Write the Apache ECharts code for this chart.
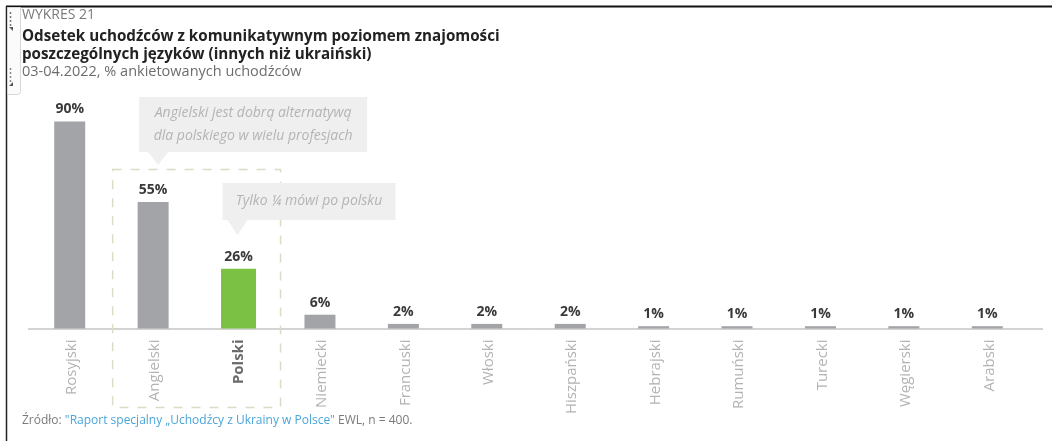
<!DOCTYPE html>
<html>
<head>
<meta charset="utf-8">
<script src="https://cdn.jsdelivr.net/npm/echarts@6/dist/echarts.min.js"></script>
<style>
  html, body { margin: 0; padding: 0; background: #fff; }
  #chart { width: 1052px; height: 441px; }
</style>
</head>
<body>
<div id="chart"></div>
<script>
// Languages spoken at a communicative level by refugees (other than Ukrainian)
const categories = ['Rosyjski', 'Angielski', 'Polski', 'Niemiecki', 'Francuski', 'Włoski',
  'Hiszpański', 'Hebrajski', 'Rumuński', 'Turecki', 'Węgierski', 'Arabski'];
const shares = [90, 55, 26, 6, 2, 2, 2, 1, 1, 1, 1, 1];
const highlighted = 'Polski';

const titleLines = ['Odsetek uchodźców z komunikatywnym poziomem znajomości',
  'poszczególnych języków (innych niż ukraiński)'];
const calloutEnglish = ['Angielski jest dobrą alternatywą', 'dla polskiego w wielu profesjach'];
const calloutPolish = ['Tylko ¼ mówi po polsku'];

const FONT = '"Open Sans", "Noto Sans", sans-serif';
const GRAY = '#a2a4a7';
const GREEN = '#7bc143';

const chart = echarts.init(document.getElementById('chart'), null, { renderer: 'canvas' });

const greySeries = shares.map((v, i) => categories[i] === highlighted ? '-' : v);
const greenSeries = shares.map((v, i) => categories[i] === highlighted ? v : '-');

const labelCfg = {
  show: true,
  position: 'top',
  distance: 5,
  formatter: p => p.value + '%',
  fontFamily: FONT,
  fontWeight: 'bold',
  fontSize: 14,
  color: '#3a3a3a'
};

chart.setOption({
  animation: false,
  backgroundColor: '#fff',
  grid: { left: 30, right: 21, top: 98.5, bottom: 112.5, containLabel: false },
  xAxis: {
    type: 'category',
    data: categories,
    axisLine: { show: false },
    axisTick: { show: false },
    axisLabel: {
      rotate: 90,
      margin: 11,
      fontFamily: FONT,
      fontSize: 15,
      color: '#b3b3b3',
      formatter: v => v === highlighted ? '{hl|' + v + '}' : v,
      rich: { hl: { fontFamily: FONT, fontSize: 15, fontWeight: 'bold', color: '#6a6a6a' } }
    }
  },
  yAxis: {
    type: 'value',
    min: 0,
    max: 100,
    show: false,
    splitLine: { show: false }
  },
  series: [
    {
      type: 'bar',
      data: greySeries,
      barWidth: 31,
      itemStyle: { color: GRAY },
      label: labelCfg
    },
    {
      type: 'bar',
      data: greenSeries,
      barWidth: 35,
      barGap: '-100%',
      itemStyle: { color: GREEN },
      label: labelCfg
    }
  ]
});

// Annotations placed relative to the category positions on the axis
const px = name => chart.convertToPixel({ xAxisIndex: 0 }, name);
const baseY = chart.convertToPixel({ yAxisIndex: 0 }, 0);
const xEn = px('Angielski');
const xPl = px('Polski');

const graphics = [];

// page frame and side toolbar
graphics.push(
  { type: 'line', shape: { x1: 6, y1: 6.5, x2: 1052, y2: 6.5 }, style: { stroke: '#111', lineWidth: 2 } },
  { type: 'line', shape: { x1: 6.5, y1: 6, x2: 6.5, y2: 441 }, style: { stroke: '#222', lineWidth: 1.5 } },
  { type: 'rect', shape: { x: 7.5, y: 7.5, width: 13, height: 87, r: [0, 0, 3, 0] },
    style: { fill: '#fbfbfb', stroke: '#d8d8d8', lineWidth: 1 } },
  { type: 'line', shape: { x1: 10.5, y1: 12, x2: 10.5, y2: 28 }, style: { stroke: '#777', lineWidth: 1.5, lineDash: [2, 2] } },
  { type: 'polygon', shape: { points: [[9, 27], [13, 27], [13, 31]] }, style: { fill: '#555' } },
  { type: 'line', shape: { x1: 10.5, y1: 68, x2: 10.5, y2: 84 }, style: { stroke: '#888', lineWidth: 1.5, lineDash: [2, 2] } },
  { type: 'polygon', shape: { points: [[9, 86], [13, 82], [13, 86]] }, style: { fill: '#555' } }
);

// headings
graphics.push(
  { type: 'text', x: 22, y: 15, style: { text: 'WYKRES 21', font: '14px ' + FONT, fill: '#7a7a7a', textVerticalAlign: 'middle' } },
  { type: 'text', x: 22, y: 37, style: { text: titleLines[0], font: 'bold 15.2px ' + FONT, fill: '#222', textVerticalAlign: 'middle' } },
  { type: 'text', x: 22, y: 55, style: { text: titleLines[1], font: 'bold 15.2px ' + FONT, fill: '#222', textVerticalAlign: 'middle' } },
  { type: 'text', x: 22, y: 72, style: { text: '03-04.2022, % ankietowanych uchodźców', font: '14.5px ' + FONT, fill: '#6d6d6d', textVerticalAlign: 'middle' } }
);

// baseline
graphics.push({ type: 'line', shape: { x1: 28, y1: baseY + 0.5, x2: 1043, y2: baseY + 0.5 }, style: { stroke: '#a8a8a8', lineWidth: 1 } });

// dashed frame around English and Polish
graphics.push({
  type: 'rect',
  shape: { x: xEn - 42.5, y: 169.5, width: (xPl + 42) - (xEn - 42.5), height: 238 },
  style: { fill: 'none', stroke: '#dcdcc6', lineWidth: 1.5, lineDash: [9, 9] },
  z: 0
});

// callout bubbles
function callout(left, top, w, h, tipX, tipY, lines, lineGap) {
  graphics.push({ type: 'rect', shape: { x: left, y: top, width: w, height: h }, style: { fill: '#efefef' }, z: 1 });
  graphics.push({ type: 'polygon', shape: { points: [[tipX - 10, top + h], [tipX + 10, top + h], [tipX, tipY]] }, style: { fill: '#efefef' }, z: 1 });
  const y0 = top + h / 2 - (lines.length - 1) * lineGap / 2;
  lines.forEach((t, i) => {
    graphics.push({
      type: 'text', x: left + w / 2, y: y0 + i * lineGap, z: 2,
      style: { text: t, font: 'italic 14px ' + FONT, fill: '#b4b4b4', textAlign: 'center', textVerticalAlign: 'middle' }
    });
  });
}
callout(xEn - 16, 97, 228, 55, xEn + 3, 165, calloutEnglish, 23);
callout(xPl - 16, 183, 173, 37, xPl - 1, 235, calloutPolish, 0);

// source line
graphics.push({
  type: 'text', x: 22, y: 421,
  style: {
    text: '{a|Źródło: }{b|"Raport specjalny „Uchodźcy z Ukrainy w Polsce"}{a| EWL, n = 400.}',
    textVerticalAlign: 'middle',
    rich: {
      a: { font: '12px ' + FONT, fill: '#7a7a7a' },
      b: { font: '12px ' + FONT, fill: '#4aa6d9', textDecoration: 'underline' }
    }
  }
});

chart.setOption({ graphic: { elements: graphics } });
</script>
</body>
</html>
